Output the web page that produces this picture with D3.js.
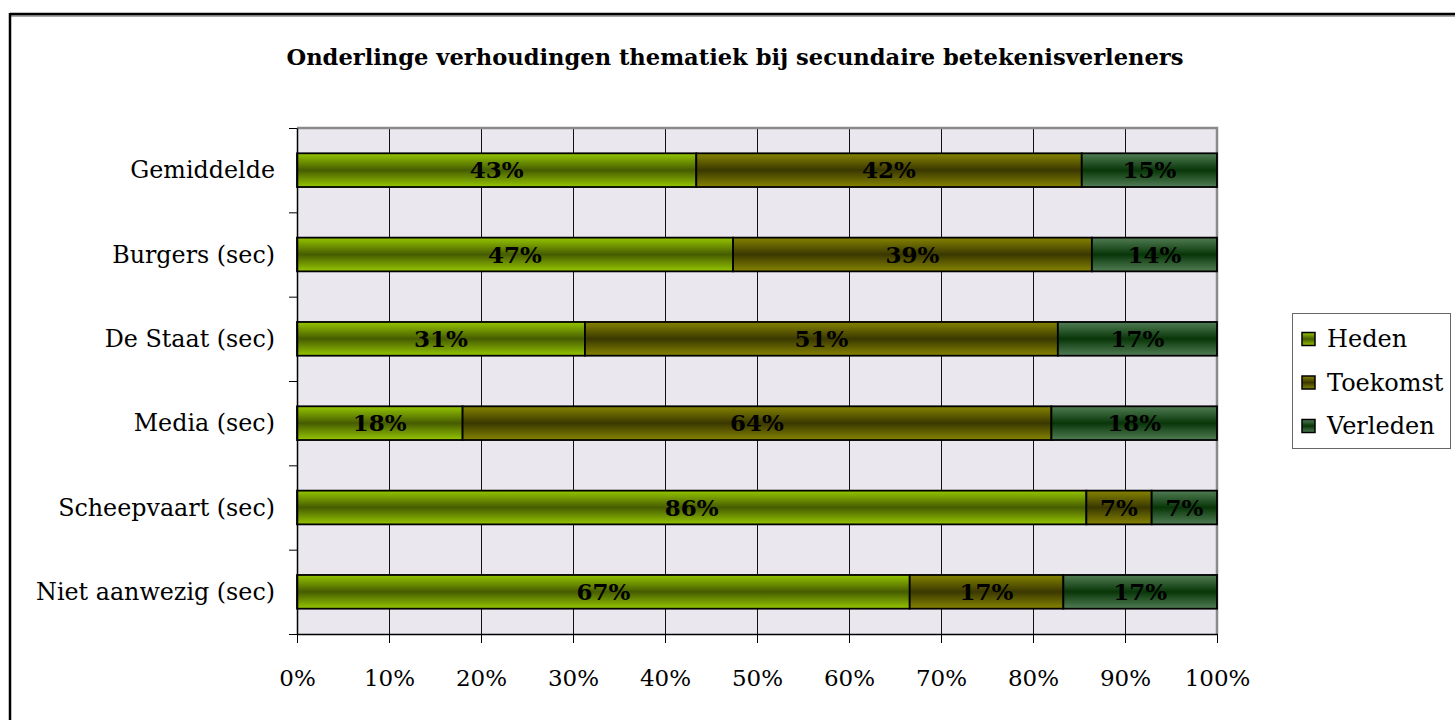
<!DOCTYPE html>
<html>
<head>
<meta charset="utf-8">
<script src="https://cdn.jsdelivr.net/npm/d3@7/dist/d3.min.js"></script>
<style>
  html, body { margin: 0; padding: 0; background: #fff; }
  svg { display: block; }
  text { font-family: "DejaVu Serif", "Liberation Serif", serif; fill: #000; }
</style>
</head>
<body>
<svg id="chart" width="1455" height="720"></svg>
<script>
// Categories, top to bottom
const categories = ["Gemiddelde", "Burgers (sec)", "De Staat (sec)", "Media (sec)", "Scheepvaart (sec)", "Niet aanwezig (sec)"];
// Share per theme (percent of each row)
const heden    = [43.4, 47.4, 31.3, 18.0, 85.8, 66.6];
const toekomst = [41.9, 39.0, 51.4, 64.0, 7.1, 16.7];
const verleden = [14.7, 13.6, 17.3, 18.0, 7.1, 16.7];
const seriesNames = ["Heden", "Toekomst", "Verleden"];
const xTicks = [0, 10, 20, 30, 40, 50, 60, 70, 80, 90, 100];
const title = "Onderlinge verhoudingen thematiek bij secundaire betekenisverleners";

const rows = categories.map((c, i) => ({ cat: c, Heden: heden[i], Toekomst: toekomst[i], Verleden: verleden[i] }));

const svg = d3.select("#chart");
const plotL = 297, plotR = 1217, plotT = 128, plotB = 634;

// Cylinder-style shading: light edges, dark centre
const shades = {
  Heden:    { edge: "#95c600", mid: "#465c00" },
  Toekomst: { edge: "#868400", mid: "#3a3800" },
  Verleden: { edge: "#527d55", mid: "#083608" }
};
const defs = svg.append("defs");
seriesNames.forEach(k => {
  const g = defs.append("linearGradient").attr("id", "grad-" + k)
    .attr("x1", 0).attr("y1", 0).attr("x2", 0).attr("y2", 1);
  g.append("stop").attr("offset", "0%").attr("stop-color", shades[k].edge);
  g.append("stop").attr("offset", "50%").attr("stop-color", shades[k].mid);
  g.append("stop").attr("offset", "100%").attr("stop-color", shades[k].edge);
});

// Outer frame (left and top edges)
svg.append("line").attr("x1", 11).attr("y1", 16).attr("x2", 1455).attr("y2", 16).attr("stroke", "#aaa").attr("stroke-width", 2);
svg.append("line").attr("x1", 10).attr("y1", 14).attr("x2", 1455).attr("y2", 14).attr("stroke", "#000").attr("stroke-width", 2.5);
svg.append("line").attr("x1", 10).attr("y1", 13).attr("x2", 10).attr("y2", 720).attr("stroke", "#000").attr("stroke-width", 2.5);

// Title
svg.append("text").attr("x", 735).attr("y", 65).attr("text-anchor", "middle")
  .attr("font-weight", "bold").attr("font-size", 22.6).text(title);

const x = d3.scaleLinear().domain([0, 100]).range([plotL, plotR]);
const y = d3.scaleBand().domain(categories).range([plotT, plotB]).paddingInner(0.6).paddingOuter(0.3);
const yEdge = d3.scaleLinear().domain([0, categories.length]).range([plotT, plotB]);

// Plot background
svg.append("rect").attr("x", plotL).attr("y", plotT).attr("width", plotR - plotL).attr("height", plotB - plotT)
  .attr("fill", "#eae8ee");

// Vertical gridlines
svg.append("g").selectAll("line").data(xTicks.slice(1, -1)).join("line")
  .attr("x1", d => Math.round(x(d)) + 0.5).attr("x2", d => Math.round(x(d)) + 0.5).attr("y1", plotT).attr("y2", plotB)
  .attr("stroke", "#111").attr("stroke-width", 1);

// Plot border top/right in grey
svg.append("path").attr("d", `M${plotL},${plotT}H${plotR}V${plotB}`)
  .attr("fill", "none").attr("stroke", "#8a8a8a").attr("stroke-width", 2.5);

// Stacked bars
const stack = d3.stack().keys(seriesNames)(rows);
const layers = svg.append("g").selectAll("g").data(stack).join("g")
  .attr("fill", d => `url(#grad-${d.key})`);
layers.selectAll("rect").data(d => d.map(s => ({ s, key: d.key }))).join("rect")
  .attr("x", d => x(d.s[0])).attr("width", d => x(d.s[1]) - x(d.s[0]))
  .attr("y", d => y(d.s.data.cat)).attr("height", y.bandwidth())
  .attr("stroke", "#000").attr("stroke-width", 1.8);

// Value labels
layers.selectAll("text").data(d => d.map(s => ({ s, key: d.key }))).join("text")
  .attr("x", d => (x(d.s[0]) + x(d.s[1])) / 2)
  .attr("y", d => y(d.s.data.cat) + y.bandwidth() / 2)
  .attr("dy", "0.35em").attr("text-anchor", "middle")
  .attr("font-weight", "bold").attr("font-size", 23).attr("fill", "#000")
  .text(d => Math.round(d.s.data[d.key]) + "%");

// X axis
const xAxis = svg.append("g").attr("transform", `translate(0,${plotB})`)
  .call(d3.axisBottom(x).tickValues(xTicks).tickFormat(d => d + "%").tickSize(9).tickSizeOuter(0).tickPadding(27));
xAxis.select(".domain").attr("stroke", "#000").attr("stroke-width", 1.5);
xAxis.selectAll(".tick line").attr("stroke", "#000");
xAxis.selectAll("text").attr("font-size", 23).attr("font-family", "DejaVu Serif, serif").attr("fill", "#000");

// Y axis (ticks at row boundaries)
const yAxis = svg.append("g").attr("transform", `translate(${plotL},0)`)
  .call(d3.axisLeft(yEdge).tickValues(d3.range(categories.length + 1)).tickFormat("").tickSize(8).tickSizeOuter(0));
yAxis.select(".domain").attr("stroke", "#000").attr("stroke-width", 1.5);
yAxis.selectAll(".tick line").attr("stroke", "#000");

// Category labels
svg.append("g").selectAll("text").data(categories).join("text")
  .attr("x", 275).attr("y", d => y(d) + y.bandwidth() / 2).attr("dy", "0.35em")
  .attr("text-anchor", "end").attr("font-size", 23.8).text(d => d);

// Legend
const lg = svg.append("g");
lg.append("rect").attr("x", 1292.5).attr("y", 313.5).attr("width", 158).attr("height", 135)
  .attr("fill", "#fff").attr("stroke", "#666").attr("stroke-width", 1);
const items = lg.selectAll("g").data(seriesNames).join("g")
  .attr("transform", (d, i) => `translate(1302,${339 + i * 43.5})`);
items.append("rect").attr("x", 0).attr("y", -6.5).attr("width", 13).attr("height", 13)
  .attr("fill", d => `url(#grad-${d})`).attr("stroke", "#000").attr("stroke-width", 1.5);
items.append("text").attr("x", 25).attr("y", 0).attr("dy", "0.35em").attr("font-size", 24).text(d => d);
</script>
</body>
</html>
